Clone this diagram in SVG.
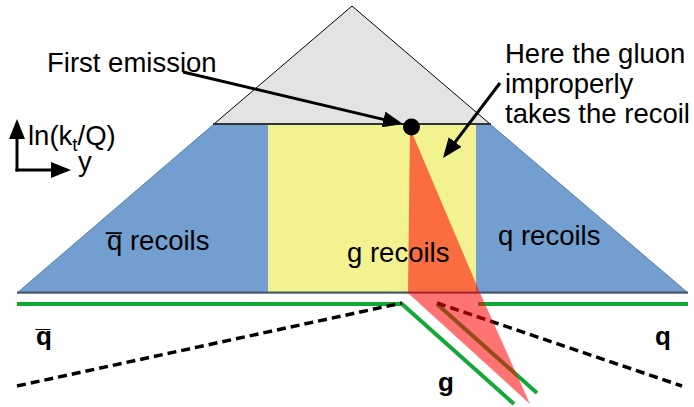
<svg xmlns="http://www.w3.org/2000/svg" width="694" height="407" viewBox="0 0 694 407">
<defs>
<style>
text{font-family:"Liberation Sans",Arial,sans-serif;fill:#000}
.lbl{font-size:27.5px}
.big{font-size:26px;font-weight:bold}
.arr{stroke:#000;stroke-width:3;fill:none}
.green{stroke:#12a835;stroke-width:4;fill:none}
.dash{stroke:#000;stroke-width:3.5;stroke-dasharray:9 5;fill:none}
</style>
<marker id="ah" viewBox="0 0 20 16" refX="16" refY="8" markerWidth="20" markerHeight="16" markerUnits="userSpaceOnUse" orient="auto">
<path d="M0,0 L20,8 L0,16 z" fill="#000"/>
</marker>
</defs>
<rect width="694" height="407" fill="#fff"/>

<g id="lund-plane">
<polygon points="214,124 490,124 688,293 17,293" fill="#729fcf" stroke="#5b7fa8" stroke-width="1"/>
<rect x="268" y="124" width="208" height="169" fill="#f3f291"/>
<line x1="17" y1="292.5" x2="688" y2="292.5" stroke="#4a5663" stroke-width="2"/>
</g>

<g id="gray-triangle">
<polygon points="352,6 214,124 490,124" fill="#e3e3e3" stroke="#000" stroke-width="1"/>
<line x1="213" y1="124" x2="491" y2="124" stroke="#333" stroke-width="2"/>
</g>

<g id="lines">
<polyline class="green" points="17,304 402,304 514,404"/>
<polyline class="green" points="688,304 478,304"/>
<polyline class="green" points="437,304 537,393"/>
<line class="dash" x1="17" y1="386" x2="402" y2="303"/>
<line class="dash" x1="437" y1="303" x2="682" y2="386"/>
</g>

<g id="gluon-recoil">
<polygon points="410,128 480,293 530,404 408,293" fill="#ff0000" fill-opacity="0.55"/>
</g>

<g id="emission-dot">
<circle cx="411.5" cy="127" r="8.5" fill="#000"/>
</g>

<g id="connectors">
<line class="arr" x1="183" y1="72" x2="399.1" y2="123.1" marker-end="url(#ah)"/>
<line class="arr" x1="500" y1="83" x2="445.4" y2="154.8" marker-end="url(#ah)"/>
<line class="arr" x1="17" y1="171.5" x2="17" y2="123" marker-end="url(#ah)"/>
<line class="arr" x1="15.5" y1="170" x2="67" y2="170" marker-end="url(#ah)"/>
</g>

<g id="labels">
<text class="lbl" x="47" y="72">First emission</text>
<text class="lbl" x="505" y="63">Here the gluon</text>
<text class="lbl" x="505" y="93">improperly</text>
<text class="lbl" x="505" y="123">takes the recoil</text>
<text class="lbl" x="28" y="145">ln(k<tspan font-size="19" dy="6">t</tspan><tspan dy="-6">/Q)</tspan></text>
<text class="lbl" x="78" y="171">y</text>
<text class="lbl" x="107" y="250">q&#x305; recoils</text>
<text class="lbl" x="347" y="262">g recoils</text>
<text class="lbl" x="498" y="245">q recoils</text>
<text class="big" x="36" y="345">q&#x305;</text>
<text class="big" x="655" y="345">q</text>
<text class="big" x="438" y="391">g</text>
</g>
</svg>
